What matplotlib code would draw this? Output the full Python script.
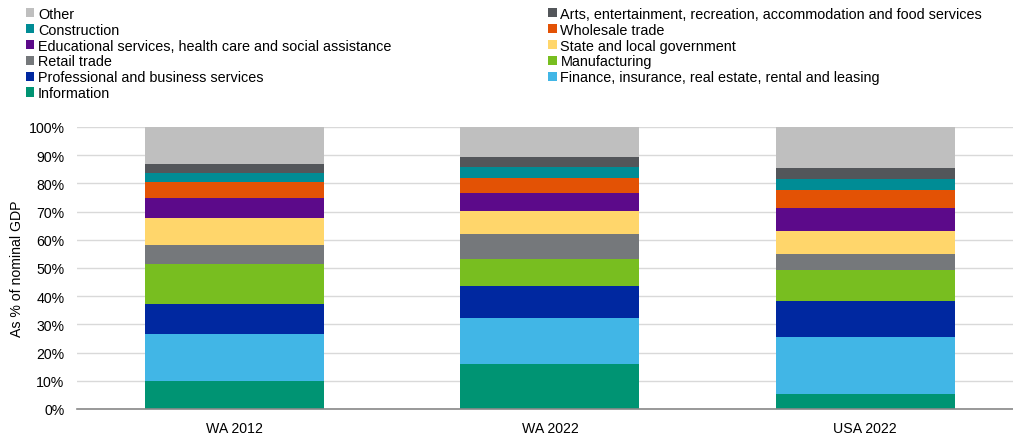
import matplotlib.pyplot as plt
import numpy as np
from matplotlib.patches import Patch
from matplotlib.ticker import FuncFormatter

plt.rcParams["font.family"] = ["Liberation Sans", "DejaVu Sans"]

regions = ["WA 2012", "WA 2022", "USA 2022"]

# stack order, bottom to top
sectors = [
    "Information",
    "Finance, insurance, real estate, rental and leasing",
    "Professional and business services",
    "Manufacturing",
    "Retail trade",
    "State and local government",
    "Educational services, health care and social assistance",
    "Wholesale trade",
    "Construction",
    "Arts, entertainment, recreation, accommodation and food services",
    "Other",
]
colors = [
    "#009473", "#41B6E6", "#0028A0", "#78BE20", "#75787B", "#FFD66B",
    "#5C0A8A", "#E35205", "#008C95", "#53565A", "#BFBFBF",
]

# share of nominal GDP (%), one list per sector: WA 2012, WA 2022, USA 2022
information = [10.0, 16.1, 5.4]
finance = [16.5, 16.1, 20.2]
professional = [10.6, 11.3, 12.8]
manufacturing = [14.4, 9.6, 11.0]
retail = [6.5, 8.8, 5.7]
state_local = [9.7, 8.4, 7.9]
education_health = [7.0, 6.2, 8.4]
wholesale = [5.8, 5.4, 6.3]
construction = [3.1, 3.9, 4.0]
arts_food = [3.3, 3.7, 3.9]
other = [13.1, 10.5, 14.4]

values = [information, finance, professional, manufacturing, retail,
          state_local, education_health, wholesale, construction,
          arts_food, other]

fig = plt.figure(figsize=(10.13, 4.39), dpi=100)
ax = fig.add_axes([77 / 1013, 1 - 410 / 439, 1 - 77 / 1013, (410 - 128) / 439])

x = np.arange(len(regions))
bottom = np.zeros(len(regions))
for name, vals, col in zip(sectors, values, colors):
    ax.bar(x, vals, bottom=bottom, width=0.568, color=col, label=name, zorder=2)
    bottom += np.array(vals)

ax.set_xlim(-0.5, -0.5 + 936 / 315.25)
ax.set_ylim(0, 100)
ax.set_yticks(np.arange(0, 101, 10))
ax.yaxis.set_major_formatter(FuncFormatter(lambda v, p: f"{v:.0f}%"))
ax.set_xticks(x)
ax.set_xticklabels(regions)
ax.tick_params(length=0, labelsize=10.2, colors="#000000")
ax.tick_params(axis="y", pad=9)
ax.tick_params(axis="x", pad=9)
ax.grid(axis="y", color="#D9D9D9", linewidth=1, zorder=0)
for side in ["top", "right", "left"]:
    ax.spines[side].set_visible(False)
ax.spines["bottom"].set_color("#888888")
ax.spines["bottom"].set_linewidth(1.2)
ax.spines["bottom"].set_zorder(3)
ax.set_ylabel("As % of nominal GDP", fontsize=10.2)
ax.yaxis.set_label_coords(-53 / 936, 0.5)

# legend, filled the way Excel fills it: rows across, top of stack first
rev = list(range(len(sectors)))[::-1]
order = rev[0::2] + rev[1::2]
handles = [Patch(facecolor=colors[i], label=sectors[i]) for i in order]
fig.legend(
    handles=handles,
    ncol=2,
    loc="upper left",
    bbox_to_anchor=(20 / 1013, 1 - 2 / 439),
    frameon=False,
    fontsize=10.4,
    handlelength=0.6,
    handleheight=0.6,
    handletextpad=0.25,
    labelspacing=0.13,
    columnspacing=10.85,
    borderaxespad=0,
)

fig.savefig("out.png", dpi=100)
